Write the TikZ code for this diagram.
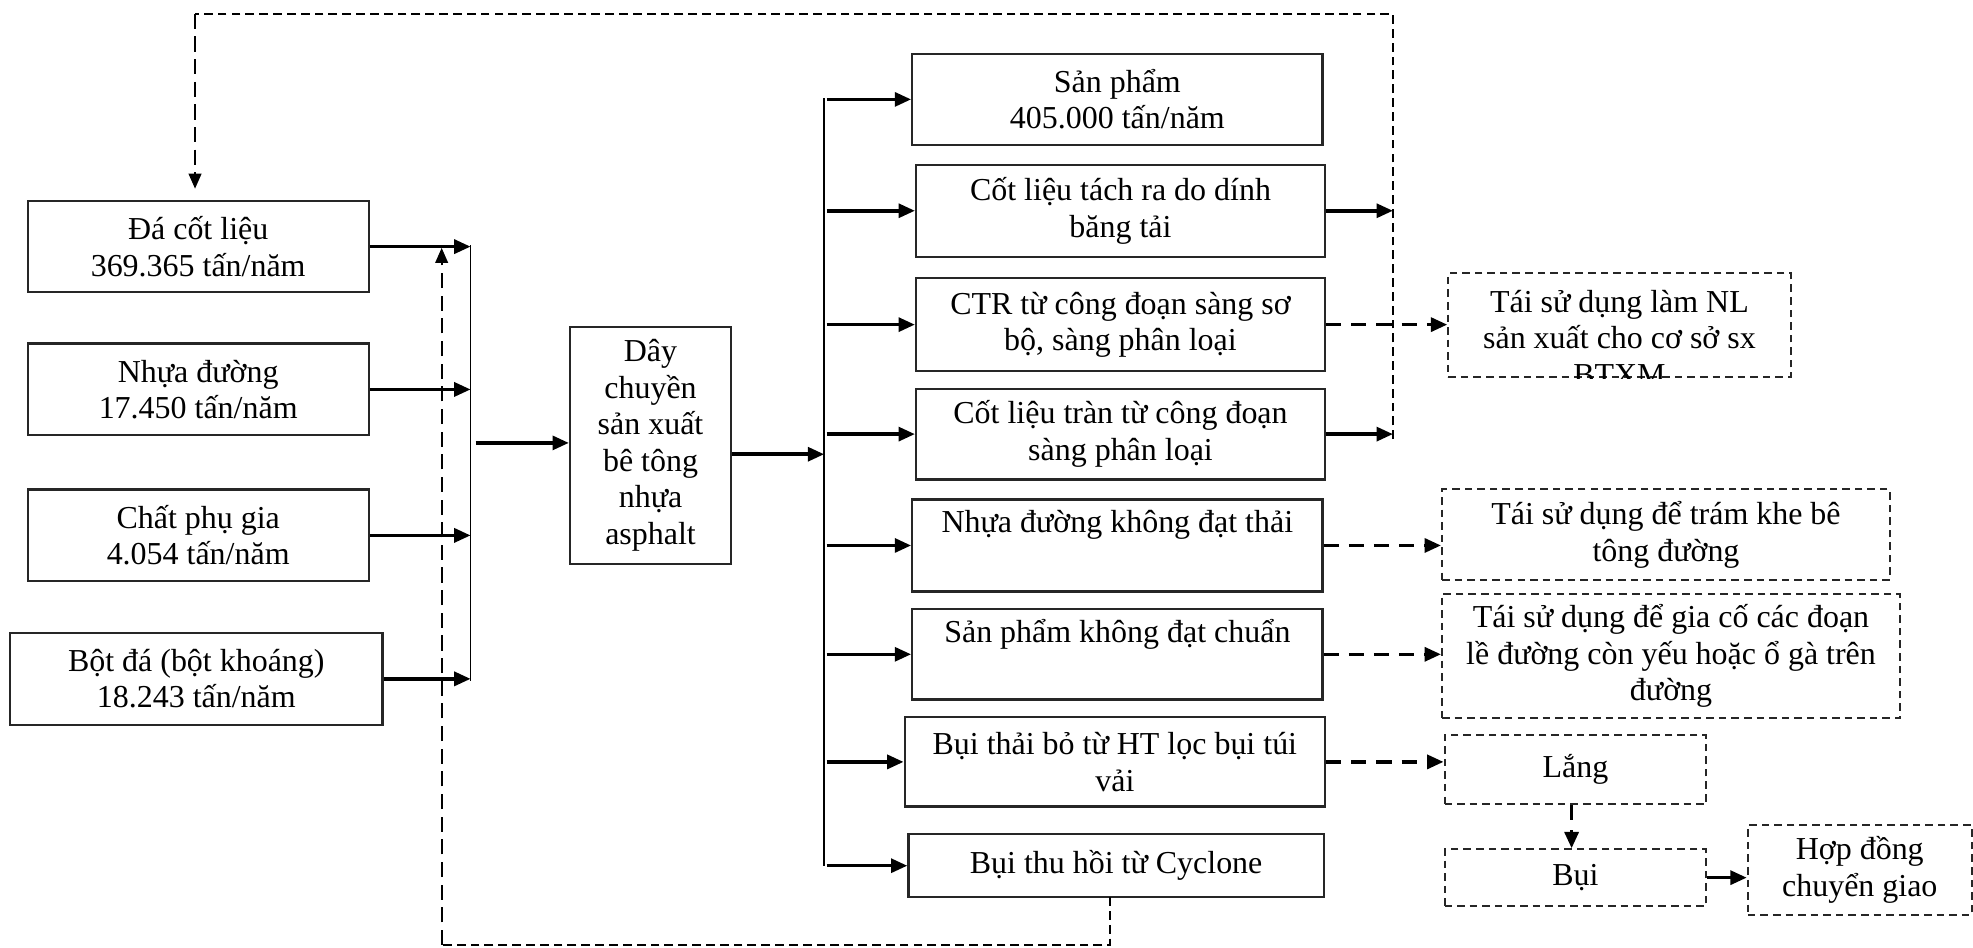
\documentclass[tikz,border=0pt]{standalone}
\usepackage{fontspec}
\setmainfont{Liberation Serif}
\usetikzlibrary{arrows.meta,calc}
\begin{document}
\begin{tikzpicture}[x=0.5pt,y=-0.5pt,
  font=\fontsize{12.7}{14.5}\selectfont,
  sz/.style 2 args={minimum width=#1*0.5pt, minimum height=#2*0.5pt},
  box/.style={draw=black!85, line width=0.9pt, inner sep=0pt, align=center},
  dbox/.style={draw=black!85, line width=0.8pt, dash pattern=on 3pt off 2pt, inner sep=0pt, align=center},
  arr/.style={line width=1.4pt, -{Triangle[length=6.5pt,width=5.5pt]}},
  darr/.style={line width=1.4pt, dash pattern=on 6pt off 4pt, -{Triangle[length=6.5pt,width=5.5pt]}},
  bus/.style={line width=0.7pt},
  loopline/.style={line width=0.7pt, dash pattern=on 3.5pt off 2pt},
  looparr/.style={line width=0.9pt, dash pattern=on 6pt off 3pt, -{Triangle[length=6pt,width=5pt]}},
]
\useasboundingbox (0,0) rectangle (1568,753);

% inputs
\node[box, sz={271}{72}] (in1) at (157.5,196) {Đá cốt liệu\\369.365 tấn/năm};
\node[box, sz={271}{73}] (in2) at (157.5,309.5) {Nhựa đường\\17.450 tấn/năm};
\node[box, sz={271}{73}] (in3) at (157.5,425.5) {Chất phụ gia\\4.054 tấn/năm};
\node[box, sz={296}{73}] (in4) at (156,539.5) {Bột đá (bột khoáng)\\18.243 tấn/năm};

% process
\node[box, sz={128}{188}] (proc) at (517,354) {Dây\\chuyền\\sản xuất\\bê tông\\nhựa\\asphalt};

% outputs
\node[box, sz={326}{72}] (o1) at (888,79) {Sản phẩm\\405.000 tấn/năm};
\node[box, sz={325}{73}] (o2) at (890.5,167.5) {Cốt liệu tách ra do dính\\băng tải};
\node[box, sz={325}{74}] (o3) at (890.5,258) {CTR từ công đoạn sàng sơ\\bộ, sàng phân loại};
\node[box, sz={325}{72}] (o4) at (890.5,345) {Cốt liệu tràn từ công đoạn\\sàng phân loại};
\node[box, sz={326}{73}] (o5) at (888,433.5) {Nhựa đường không đạt thải\\\strut};
\node[box, sz={326}{72}] (o6) at (888,520) {Sản phẩm không đạt chuẩn\\\strut};
\node[box, sz={334}{71}] (o7) at (886,605.5) {Bụi thải bỏ từ HT lọc bụi túi\\vải};
\node[box, sz={330}{50}] (o8) at (887,688) {Bụi thu hồi từ Cyclone};

% reuse boxes
\node[dbox, sz={272}{83}] (r1) at (1287,258.5) {};
\begin{scope}
  \clip (r1.south west) rectangle (r1.north east);
  \node[align=center] (r1t) at ($(r1.center)+(0,10)$) {Tái sử dụng làm NL\\sản xuất cho cơ sở sx\\BTXM};
\end{scope}
\node[dbox, sz={356}{72}] (r2) at (1324,425) {Tái sử dụng để trám khe bê\\tông đường};
\node[dbox, sz={364}{99}] (r3) at (1328,521.5) {Tái sử dụng để gia cố các đoạn\\lề đường còn yếu hoặc ổ gà trên\\đường};
\node[dbox, sz={208}{55}] (lang) at (1252,611.5) {Lắng};
\node[dbox, sz={208}{45}] (bui) at (1252,697.5) {Bụi};
\node[dbox, sz={178}{71}] (hd) at (1478,691.5) {Hợp đồng\\chuyển giao};

% left bus
\coordinate (lbT) at (374,195);
\coordinate (lbB) at (374,541);
\draw[bus] (lbT) -- (lbB);
\draw[arr] (in1.east) -- (in1.east -| lbT);
\draw[arr] (in2.east) -- (in2.east -| lbT);
\draw[arr] (in3.east) -- (in3.east -| lbT);
\draw[arr] (in4.east) -- (in4.east -| lbT);
\coordinate (lbo) at (378,352);
\draw[arr] (lbo) -- (lbo -| proc.west);

% right bus
\coordinate (rbT) at (655,78);
\coordinate (rbB) at (655,688);
\coordinate (pout) at (proc.east |- 0,361);
\draw[bus] (rbT) -- (rbB);
\draw[arr] (pout) -- (pout -| rbT);
\foreach \o in {o1,o2,o3,o4,o5,o6,o7,o8}{
  \draw[arr] (\o.west -| 657,0) -- (\o.west);
}

% feedback loops
\coordinate (fbR) at (1107,349);
\coordinate (fbTop) at (1107,11);
\coordinate (fbL) at (155,150);
\draw[arr] (o2.east) -- (o2.east -| fbR);
\draw[arr] (o4.east) -- (o4.east -| fbR);
\draw[loopline] (fbR) -- (fbTop) -- (155,11);
\draw[looparr] (155,11) -- (fbL);

\coordinate (cyc) at (882,713);
\coordinate (upT) at (351,197);
\draw[loopline] (cyc) -- (882,751) -- (351,751);
\draw[looparr] (351,751) -- (upT);

% reuse arrows
\draw[darr] (o3.east) -- (o3.east -| r1.west);
\draw[darr] (o5.east) -- (o5.east -| r2.west);
\draw[darr] (o6.east) -- (o6.east -| r3.west);
\draw[darr] (o7.east) -- (o7.east -| lang.west);
\draw[darr] (lang.south -| 1249,0) -- (bui.north -| 1249,0);
\draw[arr] (bui.east) -- (bui.east -| hd.west);
\end{tikzpicture}
\end{document}
